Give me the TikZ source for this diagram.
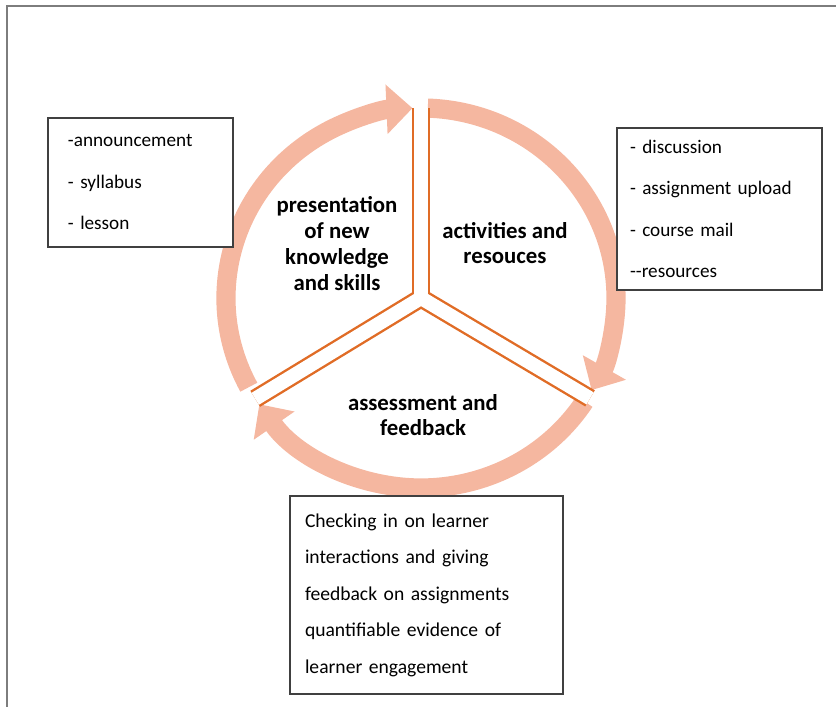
\documentclass[tikz,border=0pt]{standalone}
\usepackage{fontspec}
\setmainfont{Carlito}
\usepackage{xcolor}
\usepackage{tikz}
\usetikzlibrary{arrows.meta, positioning, calc}
\definecolor{ringpink}{RGB}{245,183,160}
\definecolor{sepline}{RGB}{224,108,38}
\definecolor{boxline}{RGB}{64,64,64}
\definecolor{framegray}{RGB}{125,125,125}
\tikzstyle{ring} = [line width=9.6pt, draw=ringpink, -{Triangle[width=24pt,length=13pt]}]
\tikzstyle{sepout} = [line width=9.4pt, draw=sepline]
\tikzstyle{sepin} = [line width=7pt, draw=white]
\tikzstyle{sector} = [align=center, font=\fontsize{11.4}{12.9}\selectfont\bfseries]
\tikzstyle{listbox} = [rectangle, draw=boxline, line width=0.7pt, fill=white, align=left, font=\fontsize{9.6}{20.75}\selectfont]

\begin{document}
\begin{tikzpicture}[x=0.5pt, y=0.5pt]
\useasboundingbox (0,0) rectangle (836,707);

% frame
\coordinate (fbl) at (7,0);
\coordinate (ftl) at (7,701);
\coordinate (ftr) at (836,701);
\draw[framegray, line width=1.2pt] (fbl) -- (ftl) -- (ftr);

\coordinate (ctr) at (421,409);

% cycle
\draw[ring] ($(ctr)+(208:195 and 190)$) arc[start angle=208, end angle=92.5, x radius=195, y radius=190];
\draw[ring] ($(ctr)+(88:195 and 190)$) arc[start angle=88, end angle=-29, x radius=195, y radius=190];
\draw[ring] ($(ctr)+(-33:195 and 190)$) arc[start angle=-33, end angle=-146, x radius=195, y radius=190];

% separators
\coordinate (stop) at ($(ctr)+(90:190)$);
\coordinate (sleft) at ($(ctr)+(211.3:194)$);
\coordinate (sright) at ($(ctr)+(-30.7:196.6)$);
\draw[sepout] (ctr) -- (stop);
\draw[sepout] (ctr) -- (sleft);
\draw[sepout] (ctr) -- (sright);
\draw[sepin] (ctr) -- (stop);
\draw[sepin] (ctr) -- (sleft);
\draw[sepin] (ctr) -- (sright);

\node[sector] (present) at (337,463.5) {presentation\\of new\\knowledge\\and skills};
\node[sector] (activ) at (505,464) {activities and\\resouces};
\node[sector] (assess) at (423,292) {assessment and\\feedback};

\node[listbox, minimum width=92.5pt, minimum height=64.5pt, inner xsep=10pt, text width=72.5pt] (leftbox) at (140.5,524.5) {-announcement\\- syllabus\\- lesson};
\node[listbox, minimum width=102.5pt, minimum height=81pt, inner xsep=6.5pt, text width=89.5pt] (rightbox) at (719.5,498) {- discussion\\- assignment upload\\- course mail\\-{}-resources};
\node[listbox, minimum width=136.5pt, minimum height=99pt, inner xsep=7.5pt, text width=121.5pt, font=\fontsize{9.8}{18.25}\selectfont] (bottombox) at (426.5,112) {Checking in on learner\\interactions and giving\\feedback on assignments\\quantifiable evidence of\\learner engagement};

\end{tikzpicture}
\end{document}
